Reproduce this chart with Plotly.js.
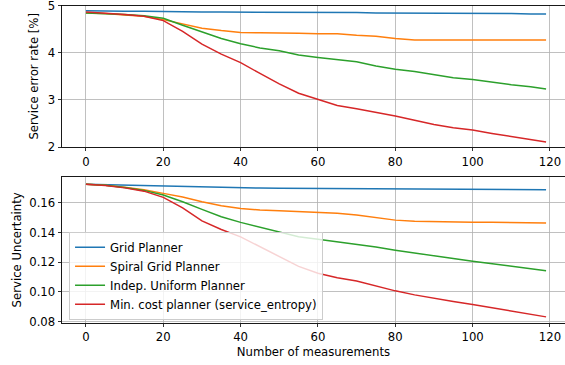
<!DOCTYPE html>
<html>
<head>
<meta charset="utf-8">
<script src="https://cdn.plot.ly/plotly-3.0.1.min.js"></script>
<style>html,body{margin:0;padding:0;background:#fff}#chart{width:565px;height:365px}</style>
</head>
<body>
<div id="chart"></div>
<script>
const measurements = [0,5,10,15,20,25,30,35,40,45,50,55,60,65,70,75,80,85,90,95,100,105,110,115,119];
const seriesNames = ["Grid Planner","Spiral Grid Planner","Indep. Uniform Planner","Min. cost planner (service_entropy)"];

const errGrid    = [4.89,4.88,4.88,4.88,4.87,4.87,4.86,4.86,4.86,4.85,4.85,4.85,4.85,4.85,4.85,4.84,4.84,4.84,4.84,4.84,4.83,4.83,4.83,4.82,4.82];
const errSpiral  = [4.84,4.83,4.80,4.77,4.70,4.61,4.52,4.47,4.43,4.42,4.42,4.41,4.40,4.40,4.37,4.35,4.30,4.27,4.27,4.27,4.27,4.27,4.27,4.27,4.27];
const errUniform = [4.84,4.83,4.81,4.78,4.73,4.58,4.44,4.30,4.19,4.10,4.04,3.95,3.90,3.86,3.81,3.72,3.65,3.60,3.53,3.47,3.43,3.37,3.32,3.28,3.23];
const errMinCost = [4.86,4.84,4.81,4.77,4.68,4.45,4.18,3.97,3.79,3.56,3.34,3.14,3.01,2.88,2.81,2.74,2.66,2.57,2.48,2.41,2.36,2.29,2.22,2.15,2.11];

const uncGrid    = [0.1725,0.1722,0.1718,0.1715,0.1712,0.1708,0.1703,0.1701,0.1700,0.1699,0.1698,0.1697,0.1697,0.1696,0.1696,0.1695,0.1695,0.1694,0.1692,0.1691,0.1690,0.1690,0.1689,0.1688,0.1688];
const uncSpiral  = [0.1725,0.1718,0.1705,0.1688,0.1663,0.1638,0.1607,0.1580,0.1562,0.1551,0.1546,0.1540,0.1537,0.1530,0.1517,0.1500,0.1483,0.1476,0.1472,0.1469,0.1468,0.1468,0.1468,0.1466,0.1463];
const uncUniform = [0.1725,0.1718,0.1703,0.1683,0.1652,0.1607,0.1555,0.1506,0.1468,0.1434,0.1405,0.1371,0.1355,0.1338,0.1322,0.1302,0.1281,0.1261,0.1241,0.1224,0.1207,0.1190,0.1174,0.1157,0.1142];
const uncMinCost = [0.1725,0.1716,0.1700,0.1678,0.1636,0.1565,0.1478,0.1420,0.1370,0.1305,0.1238,0.1172,0.1125,0.1095,0.1073,0.1040,0.1007,0.0980,0.0956,0.0936,0.0916,0.0895,0.0873,0.0850,0.0832];

const xTicks = [0,20,40,60,80,100,120];
const yTicksTop = [2,3,4,5];
const yTicksBottom = [0.08,0.10,0.12,0.14,0.16];
const yTickTextBottom = ["0.08","0.10","0.12","0.14","0.16"];

const colors = ["#1f77b4","#ff7f0e","#2ca02c","#d62728"];
const errSeries = [errGrid, errSpiral, errUniform, errMinCost];
const uncSeries = [uncGrid, uncSpiral, uncUniform, uncMinCost];

const traces = [];
errSeries.forEach((ys, i) => traces.push({
  x: measurements, y: ys, xaxis: 'x', yaxis: 'y', mode: 'lines', type: 'scatter',
  name: seriesNames[i], showlegend: false, line: {color: colors[i], width: 1.5}
}));
uncSeries.forEach((ys, i) => traces.push({
  x: measurements, y: ys, xaxis: 'x2', yaxis: 'y2', mode: 'lines', type: 'scatter',
  name: seriesNames[i], showlegend: true, line: {color: colors[i], width: 1.5}
}));

const font = {family: 'DejaVu Sans, sans-serif', size: 11.7, color: '#000'};
const xCommon = {
  range: [-6.2, 123.9], tickvals: xTicks, ticks: 'outside', ticklen: 3.5, tickwidth: 0.8, tickcolor: '#000',
  showline: true, linecolor: '#000', linewidth: 0.9, mirror: true, ticklabeloverflow: 'allow',
  showgrid: true, gridcolor: '#b0b0b0', gridwidth: 0.8, zeroline: false, tickfont: font
};
const yCommon = {
  ticks: 'outside', ticklen: 3.5, tickwidth: 0.8, tickcolor: '#000',
  showline: true, linecolor: '#000', linewidth: 0.9, mirror: false, ticklabeloverflow: 'allow',
  showgrid: true, gridcolor: '#b0b0b0', gridwidth: 0.8, zeroline: false, tickfont: font
};

const layout = {
  width: 565, height: 365,
  margin: {l: 62, r: 0, t: 0, b: 0},
  paper_bgcolor: '#fff', plot_bgcolor: '#fff',
  font: font,
  showlegend: true,
  xaxis: Object.assign({}, xCommon, {anchor: 'y', domain: [0, 1]}),
  yaxis: Object.assign({}, yCommon, {anchor: 'x', domain: [0.597, 0.985], range: [2, 5], tickvals: yTicksTop,
    title: {text: 'Service error rate [%]', font: font, standoff: 6}}),
  xaxis2: Object.assign({}, xCommon, {anchor: 'y2', domain: [0, 1],
    title: {text: 'Number of measurements', font: font, standoff: 4}}),
  yaxis2: Object.assign({}, yCommon, {anchor: 'x2', domain: [0.116, 0.515], range: [0.0793, 0.1773],
    tickvals: yTicksBottom, ticktext: yTickTextBottom,
    title: {text: 'Service Uncertainty', font: font, standoff: 5}}),
  legend: {
    x: 0.014, y: 0.124, xanchor: 'left', yanchor: 'bottom',
    bgcolor: 'rgba(255,255,255,0.8)', bordercolor: '#cccccc', borderwidth: 1,
    font: font, itemwidth: 30, tracegroupgap: 0
  }
};

Plotly.newPlot('chart', traces, layout, {displayModeBar: false, staticPlot: true});
</script>
</body>
</html>
